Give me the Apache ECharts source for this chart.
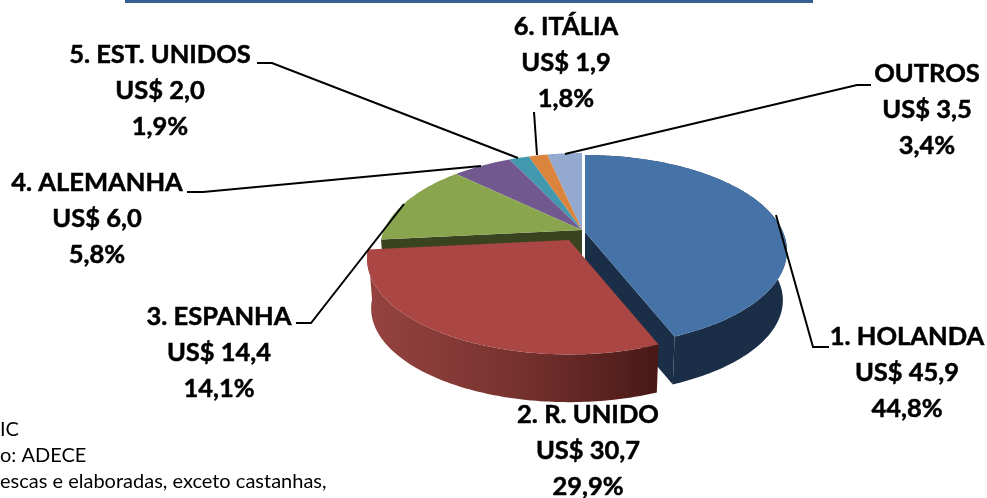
<!DOCTYPE html>
<html lang="pt">
<head>
<meta charset="UTF-8">
<title>Destinos</title>
<style>html,body{margin:0;padding:0;background:#fff}#chart{width:987px;height:498px}</style>
<script src="https://cdn.jsdelivr.net/npm/echarts@6/dist/echarts.min.js"></script>
</head>
<body>
<div id="chart"></div>
<script>
// dados
const names = ['1. HOLANDA', '2. R. UNIDO', '3. ESPANHA', '4. ALEMANHA', '5. EST. UNIDOS', '6. ITÁLIA', 'OUTROS']
const values = [45.9, 30.7, 14.4, 6.0, 2.0, 1.9, 3.5]
const valueLabels = ['US$ 45,9', 'US$ 30,7', 'US$ 14,4', 'US$ 6,0', 'US$ 2,0', 'US$ 1,9', 'US$ 3,5']
const percentLabels = ['44,8%', '29,9%', '14,1%', '5,8%', '1,9%', '1,8%', '3,4%']
const footnotes = ['IC', 'o: ADECE', 'escas e elaboradas, exceto castanhas,']

// layout
const colors = ['#4572a7', '#aa4643', '#89a54e', '#71588f', '#4198af', '#db843d', '#93a9cf']
const drawOrder = [6, 5, 4, 3, 2, 0, 1] // de tras para frente
const centers = [[585, 232], [569, 240], [582, 230], [582, 230], [582, 230], [582, 230], [582, 230]]
const labelX = [907, 588, 219, 97, 160, 566, 927]
const labelY = [319, 397, 299, 165, 37, 9, 56]
const leaders = [
  [[776, 215], [813, 347], [829, 347]],
  null,
  [[404, 204], [311, 323], [296, 323]],
  [[481, 166], [203, 192], [187, 192]],
  [[518, 158], [272, 63], [257, 63]],
  [[537, 155], [534, 112]],
  [[565, 154], [857, 85], [871, 85]]
]
const RX = 198, RY = 92, PERSP = 0.196, DEPTH = 50, BOTTOM = 0.98

const total = values.reduce((a, b) => a + b, 0)
const starts = []
values.reduce((acc, v, i) => { starts[i] = acc; return acc + v }, 0)

// perspectiva simples do circulo
function rim(center, theta, bottom) {
  const s = 1 / (1 + PERSP * Math.cos(theta))
  const f = bottom ? BOTTOM : 1
  return [
    center[0] + RX * Math.sin(theta) * s * f,
    center[1] - RY * Math.cos(theta) * s * f + (bottom ? DEPTH : 0)
  ]
}

function arc(center, a0, a1, bottom) {
  const pts = []
  const n = Math.max(4, Math.ceil((a1 - a0) * 60))
  for (let i = 0; i <= n; i++) pts.push(rim(center, a0 + (a1 - a0) * i / n, bottom))
  return pts
}

function renderSlice(params, api) {
  const i = api.value(0)
  const c = centers[i]
  const a0 = starts[i] / total * Math.PI * 2
  const a1 = (starts[i] + values[i]) / total * Math.PI * 2
  const children = []
  const low = [c[0], c[1] + DEPTH]
  const poly = (points, fill) => children.push({ type: 'polygon', shape: { points: points }, style: { fill: fill } })

  if (i === 0) {
    poly(arc(c, a0, a1, false).concat(arc(c, a0, a1, true).reverse()), '#1b2e47')
    poly([c, rim(c, a1, false), rim(c, a1, true), low], '#1b2e47')
  }
  if (i === 1) {
    poly(arc(c, a0, a1, false).concat(arc(c, a0, a1, true).reverse()),
      new echarts.graphic.LinearGradient(0, 0, 1, 0, [
        { offset: 0, color: '#964340' },
        { offset: 0.5, color: '#78332f' },
        { offset: 1, color: '#481816' }
      ]))
  }
  if (i === 2) {
    poly([c, rim(c, a0, false), rim(c, a0, true), low], '#3a431f')
  }
  poly([c].concat(arc(c, a0, a1, false)), colors[i])
  return { type: 'group', children: children }
}

const graphics = [{ type: 'rect', shape: { x: 125, y: 0, width: 688, height: 3 }, style: { fill: '#366092' } }]
leaders.forEach(points => {
  if (!points) return
  graphics.push({ type: 'polyline', z: 10, shape: { points: points }, style: { stroke: '#000', lineWidth: 2, fill: null } })
})
names.forEach((name, i) => {
  graphics.push({
    type: 'text', z: 11, x: labelX[i], y: labelY[i],
    style: {
      text: name + '\n' + valueLabels[i] + '\n' + percentLabels[i],
      font: 'bold 25.5px Lato', fill: '#000', stroke: '#000', lineWidth: 0.5,
      align: 'center', verticalAlign: 'top', lineHeight: 36
    }
  })
})
footnotes.forEach((t, i) => {
  graphics.push({
    type: 'text', x: 0, y: 420 + i * 26,
    style: { text: t, font: '20px Lato', fill: '#000', align: 'left', verticalAlign: 'top' }
  })
})

const chart = echarts.init(document.getElementById('chart'), null, { renderer: 'canvas' })
chart.setOption({
  animation: false,
  backgroundColor: '#fff',
  graphic: graphics,
  series: [{
    type: 'custom',
    coordinateSystem: 'none',
    silent: true,
    renderItem: renderSlice,
    data: drawOrder.map(i => [i, values[i]])
  }]
})
</script>
</body>
</html>
